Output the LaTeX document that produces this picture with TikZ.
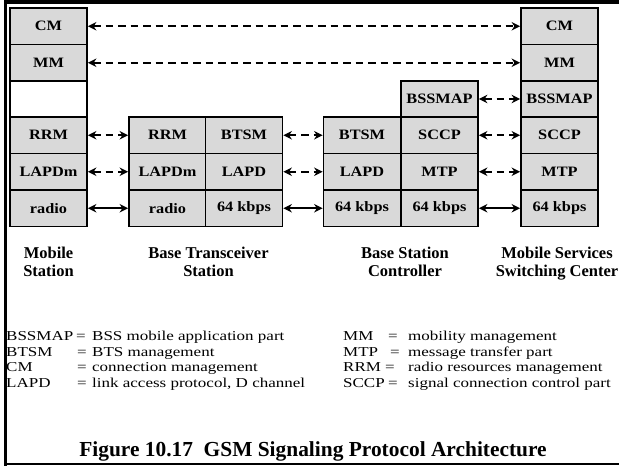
\documentclass[tikz,border=0pt]{standalone}
\usepackage{graphicx}
\usepackage{fontspec}
\setmainfont{Liberation Serif}
\usetikzlibrary{arrows.meta}
\definecolor{boxgray}{RGB}{217,217,217}
\newcommand{\bx}[1]{\scalebox{1}[0.88]{#1}}
\newcommand{\lsq}[1]{\scalebox{1}[0.8]{#1}}
\begin{document}
\begin{tikzpicture}[x=1pt,y=-1pt,
  cell/.style={draw, line width=1.8pt, fill=boxgray, minimum width=77pt, minimum height=36.5pt, inner sep=0pt, font=\bfseries\fontsize{16.3}{16.3}\selectfont},
  emptycell/.style={cell, fill=white},
  darr/.style={line width=2pt, dash pattern=on 7.5pt off 5pt, {Stealth[length=8.5pt,width=8.5pt]}-{Stealth[length=8.5pt,width=8.5pt]}},
  sarr/.style={line width=2pt, {Stealth[length=8.5pt,width=8.5pt]}-{Stealth[length=8.5pt,width=8.5pt]}},
  lab/.style={anchor=base, inner sep=0pt, font=\bfseries\fontsize{16.5}{18.5}\selectfont},
  leg/.style={anchor=base west, inner sep=0pt, font=\fontsize{17}{17}\selectfont},
  legeq/.style={anchor=base, inner sep=0pt, font=\fontsize{17}{17}\selectfont},
  ttl/.style={anchor=base, inner sep=0pt, font=\bfseries\fontsize{21.4}{21.4}\selectfont}]
\useasboundingbox (0,0) rectangle (619,466);
\fill[white] (0,0) rectangle (619,466);
% frame
\draw[line width=3.5pt] (619,2) -- (5.3,2) -- (5.3,466);
\draw[line width=2pt] (5.3,463.5) -- (619,463.5);

% Mobile Station
\node[cell] (ms1) at (48.5,26.25) {\bx{CM}};
\node[cell] (ms2) at (48.5,62.75) {\bx{MM}};
\node[emptycell] (ms3) at (48.5,99) {};
\node[cell] (ms4) at (48.5,135.25) {\bx{RRM}};
\node[cell] (ms5) at (48.5,171.75) {\bx{LAPDm}};
\node[cell] (ms6) at (48.5,208.25) {\bx{radio}};

% Base Transceiver Station
\node[cell] (bts4a) at (167.5,135.25) {\bx{RRM}};
\node[cell] (bts5a) at (167.5,171.75) {\bx{LAPDm}};
\node[cell] (bts6a) at (167.5,208.25) {\bx{radio}};
\node[cell] (bts4b) at (244,135.25) {\bx{BTSM}};
\node[cell] (bts5b) at (244,171.75) {\bx{LAPD}};
\node[cell] (bts6b) at (244,208.25) {\bx{64 kbps}};

% Base Station Controller
\node[cell] (bsc4a) at (362,135.25) {\bx{BTSM}};
\node[cell] (bsc5a) at (362,171.75) {\bx{LAPD}};
\node[cell] (bsc6a) at (362,208.25) {\bx{64 kbps}};
\node[cell] (bsc3b) at (439.5,99) {\bx{BSSMAP}};
\node[cell] (bsc4b) at (439.5,135.25) {\bx{SCCP}};
\node[cell] (bsc5b) at (439.5,171.75) {\bx{MTP}};
\node[cell] (bsc6b) at (439.5,208.25) {\bx{64 kbps}};

% Mobile Services Switching Center
\node[cell] (msc1) at (559.5,26.25) {\bx{CM}};
\node[cell] (msc2) at (559.5,62.75) {\bx{MM}};
\node[cell] (msc3) at (559.5,99) {\bx{BSSMAP}};
\node[cell] (msc4) at (559.5,135.25) {\bx{SCCP}};
\node[cell] (msc5) at (559.5,171.75) {\bx{MTP}};
\node[cell] (msc6) at (559.5,208.25) {\bx{64 kbps}};

% connectors
\draw[darr] (ms1.east) -- (msc1.west);
\draw[darr] (ms2.east) -- (msc2.west);
\draw[darr] (ms4.east) -- (bts4a.west);
\draw[darr] (ms5.east) -- (bts5a.west);
\draw[sarr] (ms6.east) -- (bts6a.west);
\draw[darr] (bts4b.east) -- (bsc4a.west);
\draw[darr] (bts5b.east) -- (bsc5a.west);
\draw[sarr] (bts6b.east) -- (bsc6a.west);
\draw[darr] (bsc3b.east) -- (msc3.west);
\draw[darr] (bsc4b.east) -- (msc4.west);
\draw[darr] (bsc5b.east) -- (msc5.west);
\draw[sarr] (bsc6b.east) -- (msc6.west);

% station labels
\node[lab] (lms1) at (48.5,258) {Mobile};
\node[lab] (lms2) at (48.5,276.5) {Station};
\node[lab] (lbts1) at (208.5,258) {Base Transceiver};
\node[lab] (lbts2) at (208.5,276.5) {Station};
\node[lab] (lbsc1) at (405,258) {Base Station};
\node[lab] (lbsc2) at (405,276.5) {Controller};
\node[lab] (lmsc1) at (557,258) {Mobile Services};
\node[lab] (lmsc2) at (557,276.5) {Switching Center};

% legend left
\node[leg] (t1) at (6,340.5) {\lsq{BSSMAP}};
\node[legeq] (e1) at (81,340.5) {\lsq{=}};
\node[leg] (d1) at (92,340.5) {\lsq{BSS mobile application part}};
\node[leg] (t2) at (6,356.2) {\lsq{BTSM}};
\node[legeq] (e2) at (82,356.2) {\lsq{=}};
\node[leg] (d2) at (92,356.2) {\lsq{BTS management}};
\node[leg] (t3) at (6,371.9) {\lsq{CM}};
\node[legeq] (e3) at (82,371.9) {\lsq{=}};
\node[leg] (d3) at (92,371.9) {\lsq{connection management}};
\node[leg] (t4) at (6,387.6) {\lsq{LAPD}};
\node[legeq] (e4) at (82,387.6) {\lsq{=}};
\node[leg] (d4) at (92,387.6) {\lsq{link access protocol, D channel}};
% legend right
\node[leg] (t5) at (343,340.5) {\lsq{MM}};
\node[legeq] (e5) at (393,340.5) {\lsq{=}};
\node[leg] (d5) at (408,340.5) {\lsq{mobility management}};
\node[leg] (t6) at (343,356.2) {\lsq{MTP}};
\node[legeq] (e6) at (395,356.2) {\lsq{=}};
\node[leg] (d6) at (408,356.2) {\lsq{message transfer part}};
\node[leg] (t7) at (343,371.9) {\lsq{RRM}};
\node[legeq] (e7) at (390,371.9) {\lsq{=}};
\node[leg] (d7) at (408,371.9) {\lsq{radio resources management}};
\node[leg] (t8) at (343,387.6) {\lsq{SCCP}};
\node[legeq] (e8) at (393,387.6) {\lsq{=}};
\node[leg] (d8) at (408,387.6) {\lsq{signal connection control part}};

% title
\node[ttl] (title) at (313,456) {Figure 10.17\ \ GSM Signaling Protocol Architecture};
\end{tikzpicture}
\end{document}
